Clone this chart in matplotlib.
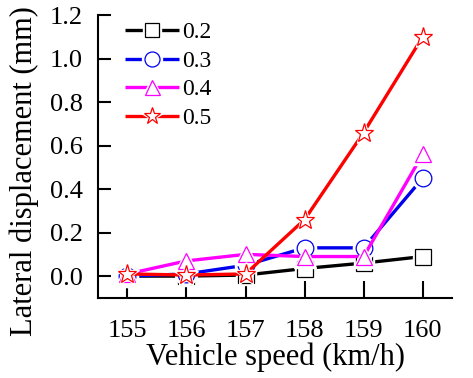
import matplotlib
matplotlib.use("Agg")
import matplotlib.pyplot as plt

plt.rcParams["font.family"] = ["Liberation Serif", "DejaVu Serif"]

speed = [155, 156, 157, 158, 159, 160]
labels = ["0.2", "0.3", "0.4", "0.5"]
disp_02 = [0.0, 0.0, 0.005, 0.035, 0.06, 0.09]
disp_03 = [0.0, 0.01, 0.05, 0.13, 0.13, 0.45]
disp_04 = [0.01, 0.07, 0.10, 0.09, 0.09, 0.56]
disp_05 = [0.01, 0.005, 0.01, 0.26, 0.66, 1.10]
yticks = [0.0, 0.2, 0.4, 0.6, 0.8, 1.0, 1.2]

series = [disp_02, disp_03, disp_04, disp_05]
colors = ["black", "#0000ee", "#ff00ff", "#ff0000"]
markers = ["s", "o", "^", "*"]
sizes = [11, 12, 12, 14]

fig = plt.figure(figsize=(4.73, 3.78), dpi=100)
ax = fig.add_axes([0.207, 0.212, 0.749, 0.748])

handles = []
for ys, lab, c, m, ms in zip(series, labels, colors, markers, sizes):
    ln, = ax.plot(speed, ys, color=c, lw=2.4, solid_capstyle="butt")
    # white halo so the line stops short of the marker
    halo, = ax.plot(speed, ys, ls="none", marker=m, ms=ms + 4,
                    mfc="white", mec="white", mew=1.0)
    mk, = ax.plot(speed, ys, ls="none", marker=m, ms=ms,
                  mfc="white", mec=c, mew=0.9)
    handles.append((ln, halo, mk))

ax.set_xlim(154.5, 160.5)
ax.set_ylim(-0.1, 1.2)
ax.set_xticks(speed)
ax.set_yticks(yticks)
ax.set_yticklabels([f"{v:.1f}" for v in yticks])
for s in ["top", "right"]:
    ax.spines[s].set_visible(False)
for s in ["left", "bottom"]:
    ax.spines[s].set_linewidth(1.5)
ax.tick_params(direction="in", width=1.5, labelsize=19)
ax.tick_params(axis="y", length=9, pad=11)
ax.tick_params(axis="x", length=12, pad=16)

ax.set_xlabel("Vehicle speed (km/h)", fontsize=22, labelpad=0)
ax.set_ylabel("Lateral displacement (mm)", fontsize=22)
ax.yaxis.set_label_coords(-0.165, 0.45)

ax.legend(handles, labels, loc="upper left", bbox_to_anchor=(0.05, 1.01),
          frameon=False, fontsize=17, handlelength=2.3, handletextpad=0.1,
          labelspacing=0.3, borderaxespad=0, markerscale=0.9)

fig.savefig("out.png", dpi=100)
